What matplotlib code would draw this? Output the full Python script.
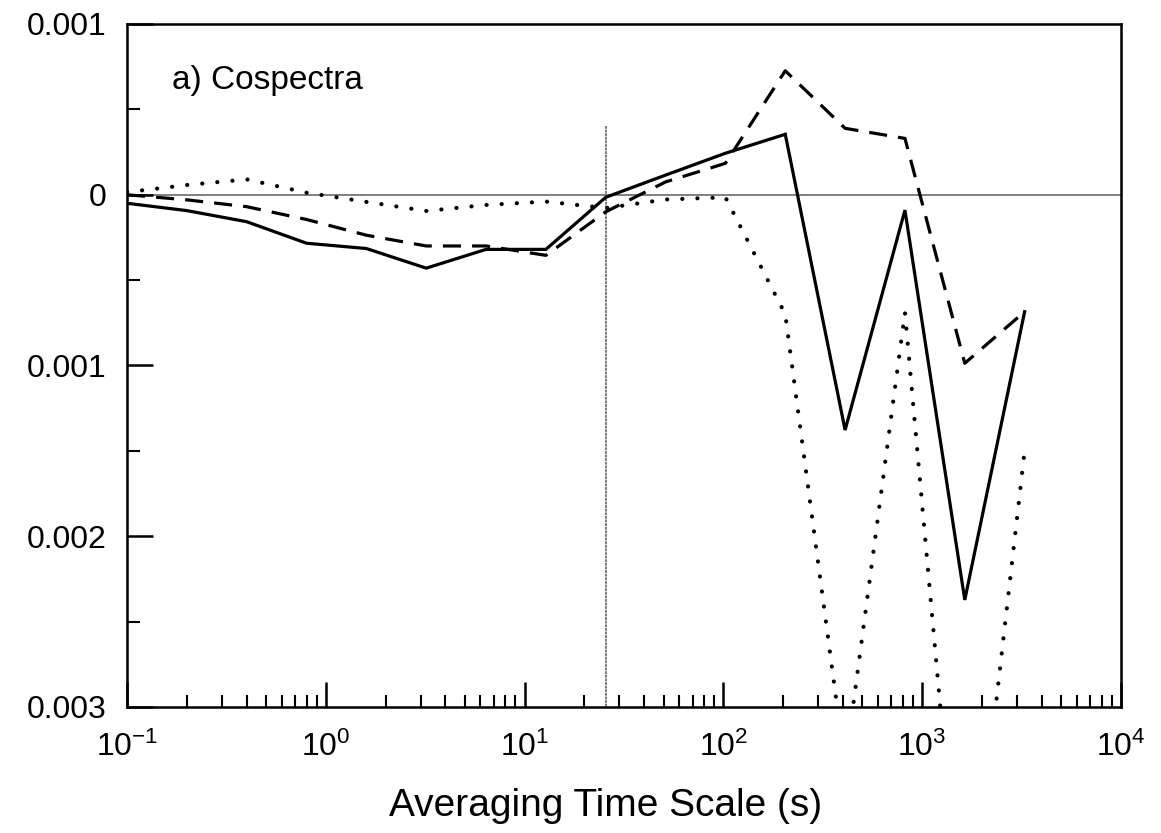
import matplotlib
matplotlib.use("Agg")
import matplotlib.pyplot as plt
from matplotlib.ticker import FixedLocator, FixedFormatter, LogLocator, NullFormatter

# ---- data (values in units of 1e-3) ----
time_scale = [0.1, 0.2, 0.4, 0.8, 1.6, 3.2, 6.4, 12.8, 25.6, 51.2,
              102.4, 204.8, 409.6, 819.2, 1638.4, 3276.8]
solid_vals = [-0.05, -0.093, -0.158, -0.284, -0.315, -0.43, -0.32, -0.32,
              -0.015, 0.115, 0.243, 0.354, -1.378, -0.09, -2.373, -0.685]
dashed_vals = [0.0, -0.03, -0.07, -0.145, -0.237, -0.30, -0.30, -0.355,
               -0.10, 0.075, 0.184, 0.726, 0.389, 0.33, -0.987, -0.685]
dotted_vals = [0.015, 0.057, 0.09, 0.012, -0.042, -0.095, -0.06, -0.04,
               -0.078, -0.028, -0.015, -0.70, -3.35, -0.69, -4.6, -1.5]
scale = 1e-3

ytick_values = [0.001, 0.0, -0.001, -0.002, -0.003]
ytick_labels = ["0.001", "0", "0.001", "0.002", "0.003"]
yminor_values = [0.0005, -0.0005, -0.0015, -0.0025]

vline_x = 25.6
vline_top = 0.0004

panel_label = "a) Cospectra"
xlabel_text = "Averaging Time Scale (s)"

plt.rcParams['font.family'] = ['Liberation Sans', 'DejaVu Sans']
plt.rcParams['lines.scale_dashes'] = False
plt.rcParams['mathtext.fontset'] = 'custom'
plt.rcParams['mathtext.rm'] = 'Liberation Sans'

fig = plt.figure(figsize=(11.61, 8.33), dpi=100)
ax = fig.add_axes([0.1094, 0.1513, 0.9655 - 0.1094, 0.9712 - 0.1513])

ax.set_xscale('log')
ax.set_xlim(0.1, 1e4)
ax.set_ylim(-0.003, 0.001)

# reference lines
ax.axhline(0.0, color='#6a6a6a', lw=1.2, zorder=1)
ax.plot([vline_x, vline_x], [vline_top, -0.003], color='#7a7a7a', lw=1.4,
        linestyle=(0, (2, 0.6)), zorder=1)

# series
ax.plot(time_scale, [v * scale for v in solid_vals], color='black', lw=2.3,
        solid_joinstyle='miter', zorder=3)
ax.plot(time_scale, [v * scale for v in dashed_vals], color='black', lw=2.3,
        linestyle=(0, (13, 8)), zorder=3)
ax.plot(time_scale, [v * scale for v in dotted_vals], color='black', lw=3.0,
        linestyle=(0, (0.1, 10.8)), dash_capstyle='round', zorder=3)

# spines
for s in ax.spines.values():
    s.set_linewidth(1.8)

# y ticks
ax.yaxis.set_major_locator(FixedLocator(ytick_values))
ax.yaxis.set_major_formatter(FixedFormatter(ytick_labels))
ax.yaxis.set_minor_locator(FixedLocator(yminor_values))
ax.tick_params(axis='y', which='major', direction='in', length=19, width=1.8,
               labelsize=23, pad=15, right=False)
ax.tick_params(axis='y', which='minor', direction='in', length=9, width=1.5,
               right=False)

# x ticks
ax.xaxis.set_major_locator(LogLocator(base=10, numticks=10))
ax.xaxis.set_minor_locator(LogLocator(base=10, subs=range(2, 10), numticks=20))
ax.xaxis.set_minor_formatter(NullFormatter())
ax.tick_params(axis='x', which='major', direction='in', length=18, width=1.8,
               labelsize=23, pad=18, top=False)
ax.tick_params(axis='x', which='minor', direction='in', length=9, width=1.5,
               top=False)

ax.text(0.045, 0.905, panel_label, transform=ax.transAxes, fontsize=24,
        ha='left', va='baseline')
ax.set_xlabel(xlabel_text, fontsize=28)
ax.xaxis.set_label_coords(0.481, -0.118)

fig.savefig('out.png', dpi=100)
